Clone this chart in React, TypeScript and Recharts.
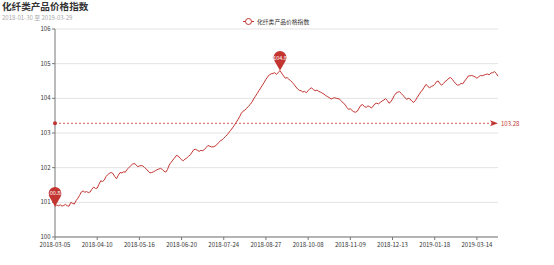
import { LineChart, Line, XAxis, YAxis, CartesianGrid, ReferenceLine, ReferenceDot } from 'recharts';

const seriesName = '化纤类产品价格指数';
const subTitle = '2018-01-30 至 2019-03-29';

// one value per trading day, 2018-03-05 .. 2019-03-29
const values = [
  100.88, 100.92, 100.90, 100.93, 100.89,
  100.91, 100.94, 100.90, 100.89, 101.00,
  100.97, 100.95, 101.05, 101.12, 101.20,
  101.30, 101.33, 101.29, 101.31, 101.28,
  101.30, 101.38, 101.44, 101.40, 101.41,
  101.52, 101.62, 101.60, 101.64, 101.74,
  101.80, 101.84, 101.86, 101.83, 101.74,
  101.68, 101.78, 101.86, 101.85, 101.88,
  101.87, 101.95, 102.00, 102.05, 102.10,
  102.12, 102.09, 102.03, 102.05, 102.06,
  102.05, 102.00, 101.96, 101.90, 101.85,
  101.86, 101.88, 101.91, 101.94, 101.96,
  101.98, 101.95, 101.90, 101.87, 101.95,
  102.08, 102.15, 102.22, 102.28, 102.35,
  102.34, 102.28, 102.23, 102.20, 102.25,
  102.28, 102.33, 102.37, 102.45, 102.52,
  102.53, 102.50, 102.47, 102.50, 102.49,
  102.52, 102.58, 102.64, 102.62, 102.60,
  102.60, 102.62, 102.66, 102.72, 102.77,
  102.80, 102.85, 102.90, 102.95, 103.02,
  103.08, 103.15, 103.22, 103.30, 103.38,
  103.47, 103.57, 103.63, 103.66, 103.71,
  103.77, 103.82, 103.89, 103.98, 104.06,
  104.14, 104.22, 104.30, 104.38, 104.46,
  104.55, 104.62, 104.68, 104.71, 104.72,
  104.74, 104.69, 104.75, 104.80, 104.72,
  104.65, 104.58, 104.60, 104.55, 104.51,
  104.46, 104.40, 104.33, 104.27, 104.23,
  104.22, 104.18, 104.20, 104.16, 104.22,
  104.28, 104.30, 104.25, 104.22, 104.24,
  104.20, 104.18, 104.15, 104.12, 104.08,
  104.05, 104.02, 103.98, 104.00, 104.02,
  104.00, 103.99, 103.97, 103.92, 103.86,
  103.82, 103.74, 103.68, 103.70, 103.65,
  103.61, 103.60, 103.63, 103.72, 103.80,
  103.82, 103.76, 103.74, 103.78, 103.76,
  103.72, 103.78, 103.84, 103.86, 103.84,
  103.88, 103.92, 103.95, 103.99, 103.94,
  103.86, 103.90, 103.98, 104.08, 104.15,
  104.18, 104.19, 104.14, 104.08, 104.03,
  103.97, 104.00, 103.98, 103.92, 103.88,
  103.94, 104.02, 104.10, 104.18, 104.24,
  104.32, 104.40, 104.36, 104.30, 104.34,
  104.36, 104.40, 104.48, 104.50, 104.42,
  104.38, 104.43, 104.49, 104.52, 104.58,
  104.60, 104.55, 104.48, 104.42, 104.38,
  104.39, 104.43, 104.42, 104.50, 104.56,
  104.64, 104.65, 104.66, 104.64, 104.62,
  104.58, 104.62, 104.66, 104.65, 104.67,
  104.69, 104.70, 104.68, 104.73, 104.74,
  104.77, 104.72, 104.64,
];

const tickLabels = [
  '2018-03-05', '2018-04-10', '2018-05-16', '2018-06-20', '2018-07-24', '2018-08-27',
  '2018-10-08', '2018-11-09', '2018-12-13', '2019-01-18', '2019-03-14',
];
const tickEvery = 24;
const yTicks = [100, 101, 102, 103, 104, 105, 106];
const avgValue = 103.28;

const RED = '#c23531';
const FONT = '"Noto Sans CJK SC", "Noto Sans", sans-serif';

const data = values.map((v, i) => ({ i, v }));
const maxV = Math.max(...values);
const minV = Math.min(...values);
const maxIdx = values.indexOf(maxV);
const minIdx = values.indexOf(minV);
const lastIdx = values.length - 1;

function pin(label: string) {
  return (props: any) => {
    const { cx, cy } = props;
    const r = 6.5;
    const hy = cy - 13;
    const d = `M${cx},${cy} L${cx - r * 0.8},${hy + r * 0.6} A${r},${r} 0 1 1 ${cx + r * 0.8},${hy + r * 0.6} Z`;
    return (
      <g>
        <path d={d} fill={RED} />
        <text x={cx} y={hy} fill="#fff" fontSize={5.5} fontFamily={FONT} textAnchor="middle" dominantBaseline="central">
          {label}
        </text>
      </g>
    );
  };
}

const avgStart = (props: any) => <circle cx={props.cx} cy={props.cy} r={2} fill={RED} />;

const avgEnd = (props: any) => {
  const { cx, cy } = props;
  return (
    <g>
      <path d={`M${cx},${cy} L${cx - 8},${cy - 3} L${cx - 6},${cy} L${cx - 8},${cy + 3} Z`} fill={RED} />
      <text x={cx + 3} y={cy} fill={RED} fontSize={6} fontFamily={FONT} dominantBaseline="central">
        {avgValue.toFixed(2)}
      </text>
    </g>
  );
};

export default function App() {
  return (
    <div style={{ position: 'absolute', left: 0, top: 0, width: 554, height: 265, background: '#fff', fontFamily: FONT }}>
      <div style={{ position: 'absolute', left: 2, top: 1, fontSize: 9.6, fontWeight: 'bold', color: '#333', lineHeight: 1.1 }}>
        {seriesName}
      </div>
      <div style={{ position: 'absolute', left: 2, top: 14.5, fontSize: 6, color: '#aaa', lineHeight: 1.1 }}>{subTitle}</div>
      <svg width={554} height={30} style={{ position: 'absolute', left: 0, top: 0 }}>
        <line x1={243} y1={21.5} x2={254} y2={21.5} stroke={RED} strokeWidth={1} />
        <circle cx={248.5} cy={21.5} r={3} fill="#fff" stroke={RED} strokeWidth={1} />
        <text x={257} y={21.5} fontSize={5.8} fill="#333" fontFamily={FONT} dominantBaseline="central">
          {seriesName}
        </text>
      </svg>
      <div style={{ position: 'absolute', left: 0, top: 0 }}>
        <LineChart width={554} height={265} data={data} margin={{ top: 29, right: 56, left: 25, bottom: 8 }}>
          <CartesianGrid vertical={false} stroke="#e3e3e3" />
          <XAxis
            type="number"
            dataKey="i"
            domain={[0, lastIdx]}
            ticks={tickLabels.map((_, k) => k * tickEvery)}
            tickFormatter={(t: number) => tickLabels[t / tickEvery]}
            interval={0}
            height={20}
            tickSize={3}
            tickMargin={3}
            stroke="#777"
            tick={{ fontSize: 6, fill: '#333', fontFamily: FONT }}
          />
          <YAxis
            type="number"
            domain={[100, 106]}
            ticks={yTicks}
            width={30}
            tickSize={3}
            tickMargin={1.5}
            stroke="#777"
            tick={{ fontSize: 6, fill: '#333', fontFamily: FONT }}
          />
          <ReferenceLine
            segment={[{ x: 0, y: avgValue }, { x: lastIdx - 3, y: avgValue }]}
            stroke={RED}
            strokeDasharray="2 2"
            strokeWidth={0.8}
          />
          <Line type="linear" dataKey="v" stroke={RED} strokeWidth={1} dot={false} activeDot={false} isAnimationActive={false} />
          <ReferenceDot x={0} y={avgValue} shape={avgStart} />
          <ReferenceDot x={lastIdx} y={avgValue} shape={avgEnd} />
          <ReferenceDot x={maxIdx} y={maxV} shape={pin(String(maxV))} />
          <ReferenceDot x={minIdx} y={minV} shape={pin(String(minV))} />
        </LineChart>
      </div>
    </div>
  );
}
